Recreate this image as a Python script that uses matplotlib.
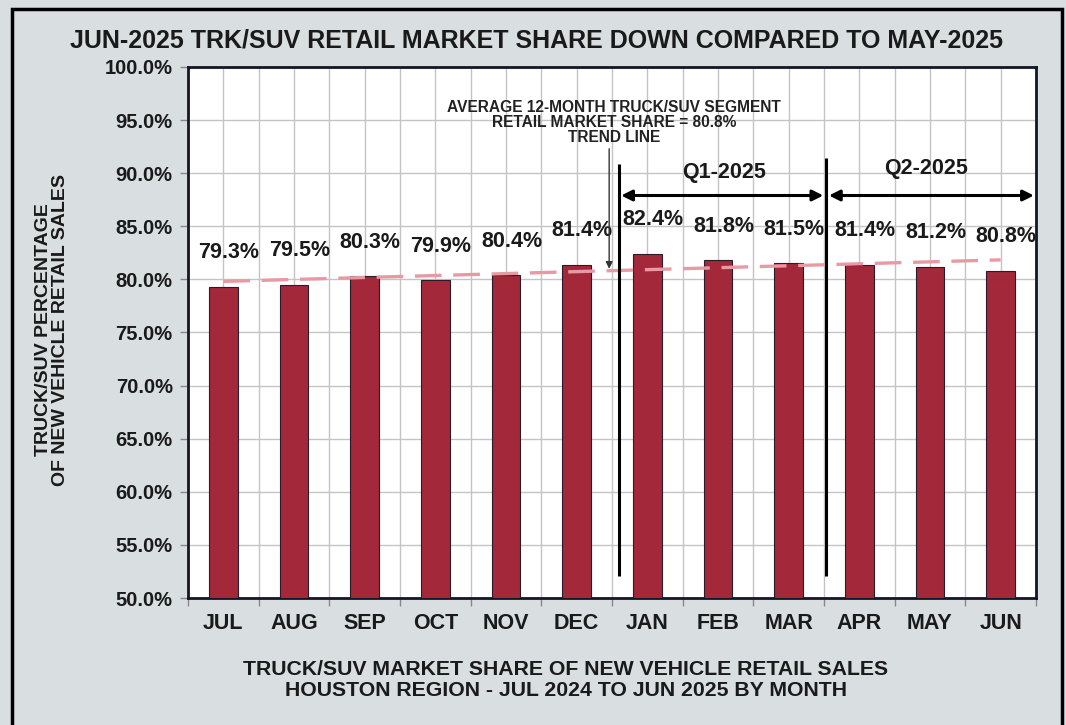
import matplotlib
matplotlib.use("Agg")
import matplotlib.pyplot as plt
import matplotlib.patches as patches
import numpy as np

months = ["JUL", "AUG", "SEP", "OCT", "NOV", "DEC", "JAN", "FEB", "MAR", "APR", "MAY", "JUN"]
share = [79.3, 79.5, 80.3, 79.9, 80.4, 81.4, 82.4, 81.8, 81.5, 81.4, 81.2, 80.8]
yticks = [50, 55, 60, 65, 70, 75, 80, 85, 90, 95, 100]

title = "JUN-2025 TRK/SUV RETAIL MARKET SHARE DOWN COMPARED TO MAY-2025"
ylabel = "TRUCK/SUV PERCENTAGE\nOF NEW VEHICLE RETAIL SALES"
xlabel = "TRUCK/SUV MARKET SHARE OF NEW VEHICLE RETAIL SALES\nHOUSTON REGION - JUL 2024 TO JUN 2025 BY MONTH"
note = "AVERAGE 12-MONTH TRUCK/SUV SEGMENT\nRETAIL MARKET SHARE = 80.8%\nTREND LINE"
quarters = ["Q1-2025", "Q2-2025"]

plt.rcParams['font.family'] = ['Liberation Sans', 'DejaVu Sans']
plt.rcParams['font.weight'] = 'bold'

BG = "#d9dee1"
BAR = "#a3283a"
INK = "#1a1a1a"

fig = plt.figure(figsize=(10.66, 7.25), dpi=100, facecolor=BG)
ax = fig.add_axes([188/1066, 1 - 598/725, (1036 - 188)/1066, (598 - 67)/725])
ax.set_facecolor("white")

x = np.arange(len(months))
ax.bar(x, share, width=0.41, color=BAR, edgecolor="#2a1a2a", linewidth=0.8, zorder=3)

# trend line (linear fit of the data)
coef = np.polyfit(x, share, 1)
ax.plot(x, np.polyval(coef, x), color="#e89aa4", lw=2.4, dashes=(8, 3.5), zorder=4)

# value labels
for xi, v in zip(x, share):
    ax.text(xi + 0.08, v + 3.2, f"{v:.1f}%", ha="center", va="center",
            fontsize=15.5, fontweight="bold", color=INK, zorder=5)

ax.set_xlim(-0.5, 11.5)
ax.set_ylim(50, 100)
ax.set_yticks(yticks)
ax.set_yticklabels([f"{t:.1f}%" for t in yticks])
ax.set_xticks(x)
ax.set_xticklabels(months)
ax.set_xticks(np.arange(-0.5, 12, 1), minor=True)

ax.grid(True, which="major", color="#c4c4c4", lw=1, zorder=0)
ax.grid(True, which="minor", axis="x", color="#c4c4c4", lw=1, zorder=0)
ax.set_axisbelow(True)

ax.tick_params(axis="y", which="major", length=6, width=1, color="#888888", pad=5,
               labelsize=14.5, labelcolor=INK)
ax.tick_params(axis="x", which="major", length=0, pad=11, labelsize=15.5, labelcolor=INK)
ax.tick_params(axis="x", which="minor", length=6, width=1, color="#888888")
for lab in ax.get_xticklabels() + ax.get_yticklabels():
    lab.set_fontweight("bold")

for s in ax.spines.values():
    s.set_color("#15152a")
    s.set_linewidth(2)

# quarter separators
ax.plot([5.6, 5.6], [52.1, 90.9], color="black", lw=2.2, zorder=6, solid_capstyle="butt")
ax.plot([8.53, 8.53], [52.1, 91.4], color="black", lw=2.2, zorder=6, solid_capstyle="butt")

# quarter arrows
ax.annotate("", xy=(5.63, 87.9), xytext=(8.49, 87.9),
            arrowprops=dict(arrowstyle="<|-|>", color="black", lw=2.2, mutation_scale=16,
                            shrinkA=0, shrinkB=0), zorder=6)
ax.annotate("", xy=(8.57, 87.9), xytext=(11.47, 87.9),
            arrowprops=dict(arrowstyle="<|-|>", color="black", lw=2.2, mutation_scale=16,
                            shrinkA=0, shrinkB=0), zorder=6)
ax.text(7.08, 90.1, quarters[0], ha="center", va="center", fontsize=15.5, fontweight="bold", color=INK)
ax.text(9.94, 90.4, quarters[1], ha="center", va="center", fontsize=15.5, fontweight="bold", color=INK)

# trend note
ax.text(5.53, 94.8, note, ha="center", va="center", fontsize=11.2, fontweight="bold",
        color="#222222", linespacing=1.0, zorder=6)
ax.annotate("", xy=(5.46, 81.0), xytext=(5.46, 92.3),
            arrowprops=dict(arrowstyle="-|>", color="#333333", lw=1, mutation_scale=10,
                            shrinkA=0, shrinkB=0), zorder=6)

# title / labels
fig.text(536/1066, 1 - 40/725, title, ha="center", va="center", fontsize=18,
         fontweight="bold", color=INK)
fig.text(52/1066, 1 - 330/725, ylabel, ha="center", va="center", rotation=90,
         fontsize=14, fontweight="bold", color=INK, linespacing=1.05)
fig.text(566/1066, 1 - 680/725, xlabel, ha="center", va="center", fontsize=15.3,
         fontweight="bold", color=INK, linespacing=1.15)

# outer frame
fig.patches.append(patches.Rectangle((12/1066, -0.02), (1062 - 12)/1066, 1.02 - 9/725,
                                     transform=fig.transFigure, fill=False,
                                     edgecolor="black", lw=2.5))

fig.savefig("out.png", dpi=100, facecolor=BG)
